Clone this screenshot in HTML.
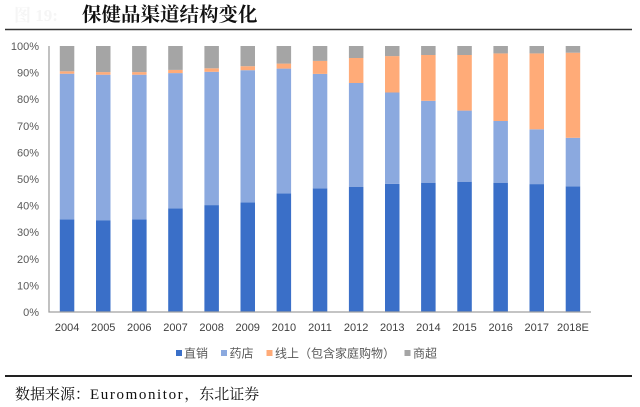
<!DOCTYPE html>
<html><head><meta charset="utf-8"><style>
html,body{margin:0;padding:0;background:#fff;}
svg{display:block;}
</style></head><body>
<svg width="640" height="407" viewBox="0 0 640 407" xmlns="http://www.w3.org/2000/svg">
<rect width="640" height="407" fill="#fff"/>
<text x="14" y="21" font-family="Liberation Serif, Noto Serif CJK SC, serif" font-size="17" fill="#f5f5f5" font-weight="bold">图 19:</text>
<text x="82" y="21" font-family="Noto Serif CJK SC, serif" font-size="19.5" font-weight="bold" fill="#111">保健品渠道结构变化</text>
<line x1="5" y1="29.5" x2="632" y2="29.5" stroke="#333" stroke-width="1.5"/>

<g font-family="Liberation Sans, sans-serif" font-size="11" fill="#595959" text-anchor="end">
<text x="39" y="316">0%</text>
<text x="39" y="289.4">10%</text>
<text x="39" y="262.8">20%</text>
<text x="39" y="236.2">30%</text>
<text x="39" y="209.6">40%</text>
<text x="39" y="183">50%</text>
<text x="39" y="156.4">60%</text>
<text x="39" y="129.8">70%</text>
<text x="39" y="103.2">80%</text>
<text x="39" y="76.6">90%</text>
<text x="39" y="50">100%</text>
</g>

<g>
<g fill="#3A6FC8">
<rect x="59.8" y="219.4" width="14.5" height="92.6"/>
<rect x="96.0" y="220.2" width="14.5" height="91.8"/>
<rect x="132.1" y="219.4" width="14.5" height="92.6"/>
<rect x="168.2" y="208.3" width="14.5" height="103.7"/>
<rect x="204.4" y="205.1" width="14.5" height="106.9"/>
<rect x="240.5" y="202.4" width="14.5" height="109.6"/>
<rect x="276.6" y="193.4" width="14.5" height="118.6"/>
<rect x="312.8" y="188.3" width="14.5" height="123.7"/>
<rect x="348.9" y="187.0" width="14.5" height="125"/>
<rect x="385.0" y="183.8" width="14.5" height="128.2"/>
<rect x="421.1" y="182.7" width="14.5" height="129.3"/>
<rect x="457.3" y="181.7" width="14.5" height="130.3"/>
<rect x="493.4" y="182.7" width="14.5" height="129.3"/>
<rect x="529.5" y="184.1" width="14.5" height="127.9"/>
<rect x="565.7" y="186.4" width="14.5" height="125.6"/>
</g>
<g fill="#8BA9DF">
<rect x="59.8" y="73.7" width="14.5" height="145.7"/>
<rect x="96.0" y="74.7" width="14.5" height="145.5"/>
<rect x="132.1" y="74.7" width="14.5" height="144.7"/>
<rect x="168.2" y="73.1" width="14.5" height="135.2"/>
<rect x="204.4" y="71.8" width="14.5" height="133.3"/>
<rect x="240.5" y="70.2" width="14.5" height="132.2"/>
<rect x="276.6" y="68.6" width="14.5" height="124.8"/>
<rect x="312.8" y="73.9" width="14.5" height="114.4"/>
<rect x="348.9" y="83.0" width="14.5" height="104"/>
<rect x="385.0" y="92.5" width="14.5" height="91.3"/>
<rect x="421.1" y="100.8" width="14.5" height="81.9"/>
<rect x="457.3" y="110.6" width="14.5" height="71.1"/>
<rect x="493.4" y="121.0" width="14.5" height="61.7"/>
<rect x="529.5" y="129.3" width="14.5" height="54.8"/>
<rect x="565.7" y="137.8" width="14.5" height="48.6"/>
</g>
<g fill="#FFAB78">
<rect x="59.8" y="71.3" width="14.5" height="2.4"/>
<rect x="96.0" y="72.1" width="14.5" height="2.6"/>
<rect x="132.1" y="72.1" width="14.5" height="2.6"/>
<rect x="168.2" y="69.9" width="14.5" height="3.2"/>
<rect x="204.4" y="68.3" width="14.5" height="3.5"/>
<rect x="240.5" y="66.2" width="14.5" height="4.0"/>
<rect x="276.6" y="63.6" width="14.5" height="5.0"/>
<rect x="312.8" y="60.9" width="14.5" height="13.0"/>
<rect x="348.9" y="58.0" width="14.5" height="25"/>
<rect x="385.0" y="56.1" width="14.5" height="36.4"/>
<rect x="421.1" y="55.0" width="14.5" height="45.8"/>
<rect x="457.3" y="55.0" width="14.5" height="55.6"/>
<rect x="493.4" y="53.4" width="14.5" height="67.6"/>
<rect x="529.5" y="53.4" width="14.5" height="75.9"/>
<rect x="565.7" y="52.7" width="14.5" height="85.1"/>
</g>
<g fill="#A5A5A5">
<rect x="59.8" y="46" width="14.5" height="25.3"/>
<rect x="96.0" y="46" width="14.5" height="26.1"/>
<rect x="132.1" y="46" width="14.5" height="26.1"/>
<rect x="168.2" y="46" width="14.5" height="23.9"/>
<rect x="204.4" y="46" width="14.5" height="22.3"/>
<rect x="240.5" y="46" width="14.5" height="20.2"/>
<rect x="276.6" y="46" width="14.5" height="17.6"/>
<rect x="312.8" y="46" width="14.5" height="14.9"/>
<rect x="348.9" y="46" width="14.5" height="12"/>
<rect x="385.0" y="46" width="14.5" height="10.1"/>
<rect x="421.1" y="46" width="14.5" height="9"/>
<rect x="457.3" y="46" width="14.5" height="9"/>
<rect x="493.4" y="46" width="14.5" height="7.4"/>
<rect x="529.5" y="46" width="14.5" height="7.4"/>
<rect x="565.7" y="46" width="14.5" height="6.7"/>
</g>
</g>

<line x1="49" y1="46" x2="49" y2="312.5" stroke="#A0A0A0" stroke-width="1.3"/>
<line x1="48.5" y1="312" x2="591" y2="312" stroke="#A0A0A0" stroke-width="1.3"/>

<g font-family="Liberation Sans, sans-serif" font-size="11" fill="#404040" text-anchor="middle">
<text x="67.1" y="331">2004</text>
<text x="103.2" y="331">2005</text>
<text x="139.3" y="331">2006</text>
<text x="175.5" y="331">2007</text>
<text x="211.6" y="331">2008</text>
<text x="247.7" y="331">2009</text>
<text x="283.9" y="331">2010</text>
<text x="320.0" y="331">2011</text>
<text x="356.1" y="331">2012</text>
<text x="392.3" y="331">2013</text>
<text x="428.4" y="331">2014</text>
<text x="464.5" y="331">2015</text>
<text x="500.7" y="331">2016</text>
<text x="536.8" y="331">2017</text>
<text x="572.9" y="331">2018E</text>
</g>

<g font-family="Liberation Sans, Noto Sans CJK SC, sans-serif" font-size="12" fill="#595959">
<rect x="176" y="350" width="6" height="6" fill="#3A6FC8"/>
<text x="184" y="357.5">直销</text>
<rect x="221" y="350" width="6" height="6" fill="#8BA9DF"/>
<text x="229.5" y="357.5">药店</text>
<rect x="266.5" y="350" width="6" height="6" fill="#FFAB78"/>
<text x="275" y="357.5">线上（包含家庭购物）</text>
<rect x="404.5" y="350" width="6" height="6" fill="#A5A5A5"/>
<text x="413" y="357.5">商超</text>
</g>

<line x1="5" y1="376" x2="632" y2="376" stroke="#222" stroke-width="2"/>

<text x="15" y="399" font-family="Liberation Serif, Noto Serif CJK SC, serif" font-size="15" fill="#111">数据来源：<tspan letter-spacing="1.6">Euromonitor</tspan>，东北证券</text>
</svg>
</body></html>
